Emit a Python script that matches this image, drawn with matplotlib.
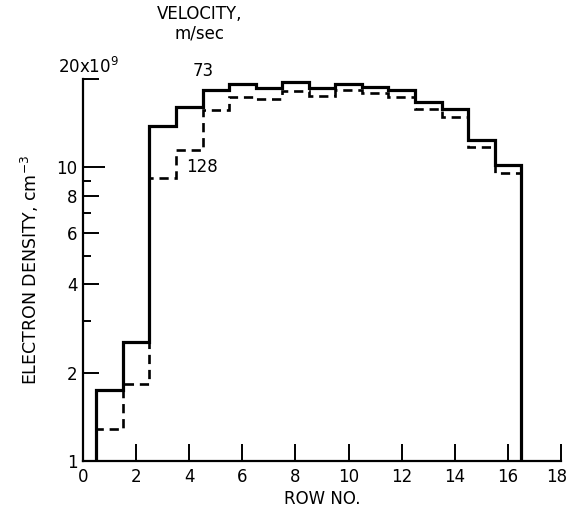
import matplotlib
matplotlib.use("Agg")
import matplotlib.pyplot as plt
import matplotlib.transforms as mtransforms
import numpy as np

# ---- data ----
rows = list(range(1, 17))
solid_73 = [1.75, 2.54, 13.8, 16.0, 18.4, 19.2, 18.6, 19.5, 18.7, 19.3, 18.8, 18.4, 16.7, 15.8, 12.4, 10.2]
dashed_128 = [1.29, 1.83, 9.2, 11.5, 15.7, 17.4, 17.1, 18.2, 17.5, 18.3, 17.9, 17.3, 15.8, 14.9, 11.7, 9.55]
xticks = [0, 2, 4, 6, 8, 10, 12, 14, 16, 18]
yticks_major = [1, 2, 4, 6, 8, 10, 20]
ytick_labels = ['1', '2', '4', '6', '8', '10', '']
yticks_minor = [3, 5, 7, 9]

plt.rcParams['font.family'] = ['DejaVu Sans']
plt.rcParams['mathtext.fontset'] = 'dejavusans'

FS = 12

fig = plt.figure(figsize=(5.69, 5.16), dpi=100)
ax = fig.add_axes([83/569, 55/516, 478/569, 382/516])

edges = np.arange(0.5, len(rows) + 1, 1.0)
ax.stairs(solid_73, edges, baseline=1, color='black', lw=2.3)
ax.stairs(dashed_128, edges, baseline=1, color='black', lw=1.9, linestyle=(0, (3.5, 2.2)))

ax.set_yscale('log')
ax.set_xlim(0, 18)
ax.set_ylim(1, 20)
ax.spines['top'].set_visible(False)
ax.spines['right'].set_visible(False)
ax.spines['left'].set_linewidth(1.6)
ax.spines['bottom'].set_linewidth(1.6)

ax.set_xticks(xticks)
ax.set_xticklabels([str(v) for v in xticks], fontsize=FS)
ax.set_yticks(yticks_major)
ax.set_yticklabels(ytick_labels, fontsize=FS)
ax.set_yticks(yticks_minor, minor=True)
ax.yaxis.set_minor_formatter(matplotlib.ticker.NullFormatter())
ax.xaxis.set_minor_locator(matplotlib.ticker.NullLocator())
ax.tick_params(axis='x', direction='in', length=12, width=1.4, pad=5)
ax.tick_params(axis='y', which='major', direction='in', length=11.5, width=1.4, pad=4)
ax.tick_params(axis='y', which='minor', direction='in', length=5.8, width=1.4)

for t, v in zip(ax.yaxis.get_major_ticks(), yticks_major):
    if v == 10:
        t.tick1line.set_markersize(15.8)
    if v == 1:
        t.tick1line.set_markersize(0)
ax.xaxis.get_major_ticks()[0].tick1line.set_markersize(0)

# keep the last x tick label inside the canvas
last = ax.get_xticklabels()[-1]
last.set_transform(last.get_transform() + mtransforms.ScaledTranslation(-4/100, 0, fig.dpi_scale_trans))

ax.set_xlabel('ROW NO.', fontsize=FS, labelpad=3)
ax.set_ylabel('ELECTRON DENSITY, cm$^{-3}$', fontsize=12.5, labelpad=11)

ax.text(0.19, 20.3, '20x10$^9$', ha='center', va='bottom', fontsize=FS, clip_on=False)
ax.text(4.52, 19.9, '73', ha='center', va='bottom', fontsize=FS, clip_on=False)
ax.text(3.88, 10.0, '128', ha='left', va='center', fontsize=FS)
fig.text(200/569, 1 - 14/516, 'VELOCITY,', ha='center', va='center', fontsize=FS)
fig.text(200/569, 1 - 34/516, 'm/sec', ha='center', va='center', fontsize=FS)

fig.savefig('out.png', dpi=100)
